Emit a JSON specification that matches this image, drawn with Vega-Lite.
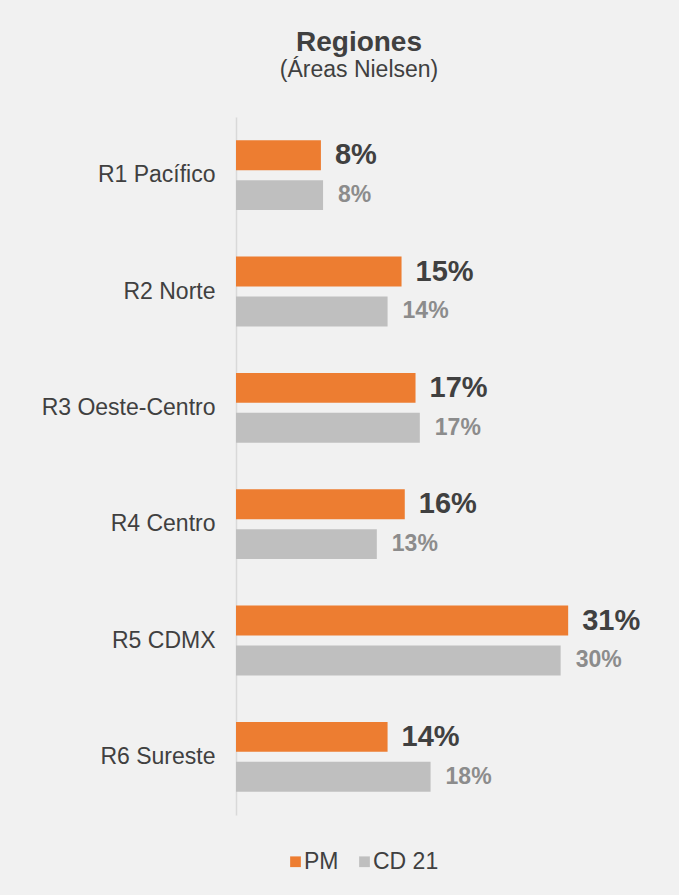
{
  "$schema": "https://vega.github.io/schema/vega-lite/v6.json",
  "autosize": "none",
  "width": 400,
  "height": 698,
  "padding": {"left": 236, "top": 117, "right": 43, "bottom": 80},
  "background": "#f1f1f1",
  "config": {
    "font": "Liberation Sans",
    "view": {"stroke": null},
    "title": {"font": "Liberation Sans", "fontSize": 28, "fontWeight": "bold", "color": "#404040", "subtitleFont": "Liberation Sans", "subtitleFontSize": 23, "subtitleColor": "#404040", "subtitlePadding": 2, "anchor": "middle", "frame": "group", "offset": 35, "dx": -77}
  },
  "title": {"text": "Regiones", "subtitle": "(Áreas Nielsen)"},
  "data": {
    "values": [
      {"region": "R1 Pacífico", "series": "PM", "value": 0.079},
      {"region": "R1 Pacífico", "series": "CD 21", "value": 0.081},
      {"region": "R2 Norte", "series": "PM", "value": 0.154},
      {"region": "R2 Norte", "series": "CD 21", "value": 0.141},
      {"region": "R3 Oeste-Centro", "series": "PM", "value": 0.167},
      {"region": "R3 Oeste-Centro", "series": "CD 21", "value": 0.171},
      {"region": "R4 Centro", "series": "PM", "value": 0.157},
      {"region": "R4 Centro", "series": "CD 21", "value": 0.131},
      {"region": "R5 CDMX", "series": "PM", "value": 0.309},
      {"region": "R5 CDMX", "series": "CD 21", "value": 0.302},
      {"region": "R6 Sureste", "series": "PM", "value": 0.141},
      {"region": "R6 Sureste", "series": "CD 21", "value": 0.181}
    ]
  },
  "encoding": {
    "y": {"field": "region", "type": "nominal", "sort": null, "title": null,
      "scale": {"paddingInner": 0.4, "paddingOuter": 0.2},
      "axis": {"ticks": false, "domainColor": "#d9d9d9", "domainWidth": 1.5, "labelFontSize": 23, "labelColor": "#404040", "labelPadding": 21, "labelFont": "Liberation Sans"}},
    "yOffset": {"field": "series", "type": "nominal", "sort": ["PM", "CD 21"], "scale": {"paddingInner": 0.25}},
    "x": {"field": "value", "type": "quantitative", "axis": null, "scale": {"domain": [0, 0.3721], "nice": false}}
  },
  "layer": [
    {
      "mark": {"type": "bar"},
      "encoding": {
        "color": {"field": "series", "type": "nominal", "scale": {"domain": ["PM", "CD 21"], "range": ["#ED7D31", "#BFBFBF"]},
          "legend": {"title": null, "orient": "none", "direction": "horizontal", "legendX": 48, "legendY": 733, "symbolType": "square", "symbolSize": 115, "symbolStrokeWidth": 0, "labelFontSize": 23, "labelColor": "#404040", "labelFont": "Liberation Sans", "columnPadding": 14, "labelOffset": -3}}
      }
    },
    {
      "transform": [{"filter": "datum.series === 'PM'"}],
      "mark": {"type": "text", "align": "left", "baseline": "middle", "dx": 14, "fontSize": 29, "fontWeight": "bold", "color": "#404040"},
      "encoding": {"text": {"field": "value", "type": "quantitative", "format": ".0%"}}
    },
    {
      "transform": [{"filter": "datum.series === 'CD 21'"}],
      "mark": {"type": "text", "align": "left", "baseline": "middle", "dx": 15, "fontSize": 23, "fontWeight": "bold", "color": "#8c8c8c"},
      "encoding": {"text": {"field": "value", "type": "quantitative", "format": ".0%"}}
    }
  ]
}
